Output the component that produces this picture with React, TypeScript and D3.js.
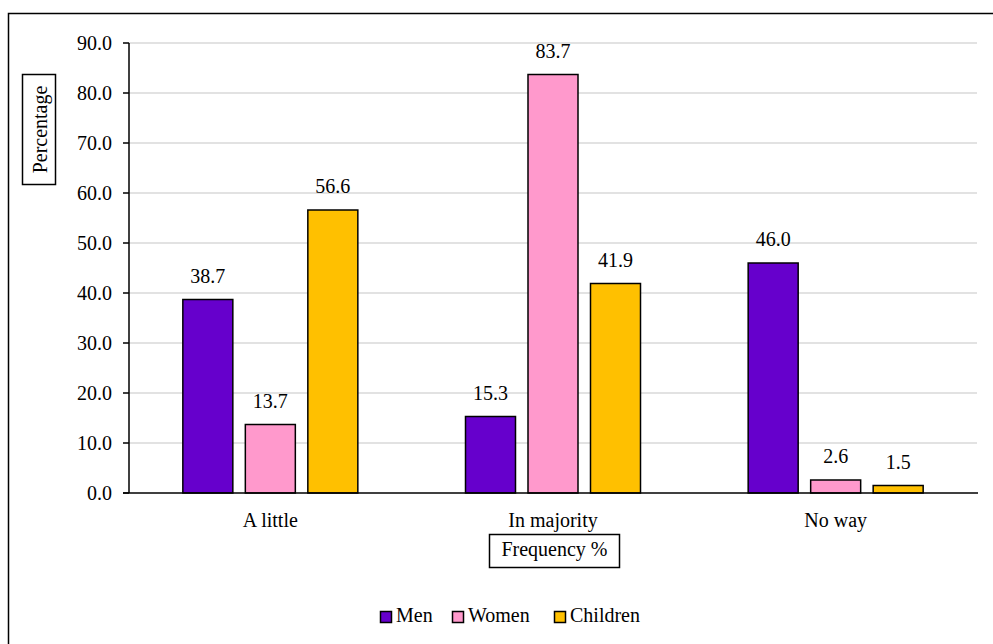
import React from "react";
import * as d3 from "d3";

const categories = ["A little", "In majority", "No way"];
const seriesNames = ["Men", "Women", "Children"];
const men = [38.7, 15.3, 46.0];
const women = [13.7, 83.7, 2.6];
const children = [56.6, 41.9, 1.5];
const yTicks = [0, 10, 20, 30, 40, 50, 60, 70, 80, 90];
const colors = ["#6600cc", "#ff99cc", "#ffc000"];

const W = 993;
const H = 644;
const left = 129;
const right = 977;
const top = 43;
const bottom = 493;
const FONT = "Liberation Serif";

export default function App() {
  const series = [men, women, children];
  const y = d3.scaleLinear().domain([0, 90]).range([bottom, top]);
  const x0 = d3.scaleBand<string>().domain(categories).range([left, right]);
  const groupW = 175;
  const x1 = d3.scaleBand<string>().domain(seriesNames).range([0, groupW]).paddingInner(0.2);
  const off = (x0.bandwidth() - groupW) / 2;

  const legendItems = [
    { sq: 380, tx: 396 },
    { sq: 452, tx: 468 },
    { sq: 554, tx: 570 },
  ];

  const ts = { fontFamily: FONT };

  return (
    <svg width={W} height={H} style={{ position: "absolute", left: 0, top: 0, background: "#fff" }}>
      <rect x={8.5} y={13.5} width={1000} height={700} fill="#fff" stroke="#000" strokeWidth={1.5} />
      {yTicks.filter((t) => t > 0).map((t) => (
        <line key={"g" + t} x1={left} x2={right} y1={y(t)} y2={y(t)} stroke="#d9d9d9" strokeWidth={1.5} />
      ))}
      {series.map((vals, si) =>
        categories.map((c, ci) => {
          const bx = (x0(c) as number) + off + (x1(seriesNames[si]) as number);
          const by = y(vals[ci]);
          return (
            <g key={si + "-" + ci}>
              <rect x={bx} y={by} width={x1.bandwidth()} height={bottom - by} fill={colors[si]} stroke="#000" strokeWidth={1.5} />
              <text x={bx + x1.bandwidth() / 2} y={by - 17} textAnchor="middle" fontSize={20} style={ts}>
                {vals[ci].toFixed(1)}
              </text>
            </g>
          );
        })
      )}
      <line x1={left} x2={left} y1={top} y2={bottom} stroke="#000" strokeWidth={1.5} />
      <line x1={left - 6} x2={right + 1} y1={bottom} y2={bottom} stroke="#000" strokeWidth={1.5} />
      {yTicks.map((t) => (
        <g key={"t" + t}>
          <line x1={left - 6} x2={left} y1={y(t)} y2={y(t)} stroke="#000" strokeWidth={1.5} />
          <text x={112} y={y(t)} dy="0.35em" textAnchor="end" fontSize={20} style={ts}>
            {t.toFixed(1)}
          </text>
        </g>
      ))}
      {categories.map((c) => (
        <text key={c} x={(x0(c) as number) + x0.bandwidth() / 2} y={527} textAnchor="middle" fontSize={20} style={ts}>
          {c}
        </text>
      ))}
      <rect x={489.5} y={534.5} width={130} height={33} fill="#fff" stroke="#000" strokeWidth={1.5} />
      <text x={554.5} y={556} textAnchor="middle" fontSize={20} style={ts}>Frequency %</text>
      <rect x={22.5} y={74.5} width={33} height={110} fill="#fff" stroke="#000" strokeWidth={1.5} />
      <text transform="translate(47,129.5) rotate(-90)" textAnchor="middle" fontSize={20} style={ts}>Percentage</text>
      {seriesNames.map((s, i) => (
        <g key={s}>
          <rect x={legendItems[i].sq + 0.5} y={611.5} width={11} height={11} fill={colors[i]} stroke="#000" strokeWidth={1.5} />
          <text x={legendItems[i].tx} y={622} fontSize={20} style={ts}>{s}</text>
        </g>
      ))}
    </svg>
  );
}
